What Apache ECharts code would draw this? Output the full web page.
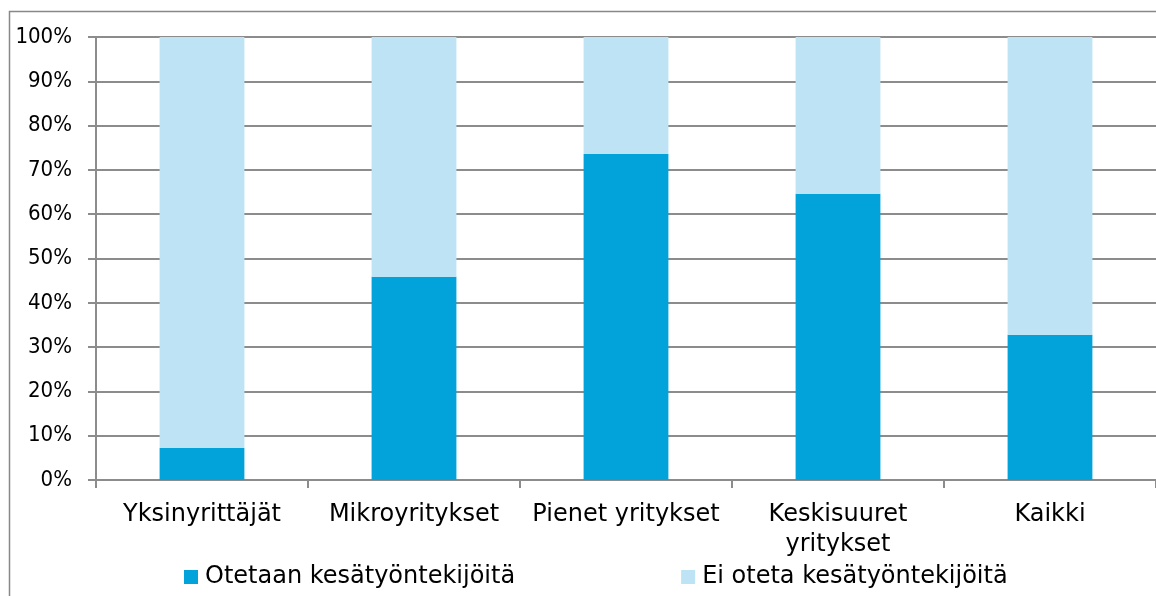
<!DOCTYPE html>
<html>
<head>
<meta charset="utf-8">
<style>
  html, body { margin: 0; padding: 0; background: #fff; }
  #chart { width: 1156px; height: 596px; }
</style>
<script src="https://cdn.jsdelivr.net/npm/echarts@6/dist/echarts.min.js"></script>
</head>
<body>
<div id="chart"></div>
<script>
// categories and shares (percent)
const categories = ['Yksinyrittäjät', 'Mikroyritykset', 'Pienet yritykset', 'Keskisuuret\nyritykset', 'Kaikki'];
const hiring = [7.2, 45.9, 73.6, 64.6, 32.8];
const notHiring = [92.8, 54.1, 26.4, 35.4, 67.2];
const yTicks = [0, 10, 20, 30, 40, 50, 60, 70, 80, 90, 100];

const labelFont = '"DejaVu Sans", sans-serif';
const tickFont = '"DejaVu Sans Condensed", "DejaVu Sans", sans-serif';

const chart = echarts.init(document.getElementById('chart'));
chart.setOption({
    animation: false,
    textStyle: { fontFamily: labelFont },
    graphic: [{
        type: 'rect',
        shape: { x: 9.5, y: 11.5, width: 1160, height: 600 },
        style: { fill: 'none', stroke: '#888', lineWidth: 1.5 },
        silent: true
    }],
    grid: { left: 96, right: 0, top: 37, bottom: 116 },
    legend: {
        bottom: 2,
        left: 179,
        itemWidth: 14,
        itemHeight: 14,
        itemGap: 166,
        icon: 'rect',
        textStyle: { fontSize: 24, color: '#000', fontFamily: labelFont, padding: [0, 0, 0, 2] },
        data: ['Otetaan kesätyöntekijöitä', 'Ei oteta kesätyöntekijöitä']
    },
    xAxis: {
        type: 'category',
        data: categories,
        axisLine: { lineStyle: { color: '#8c8c8c', width: 2 } },
        axisTick: { show: true, interval: 0, length: 8, lineStyle: { color: '#8c8c8c', width: 2 } },
        axisLabel: { interval: 0, color: '#000', fontSize: 24, margin: 20, lineHeight: 30, fontFamily: labelFont }
    },
    yAxis: {
        type: 'value',
        min: 0,
        max: 100,
        interval: 10,
        axisLine: { show: true, lineStyle: { color: '#8c8c8c', width: 2 } },
        axisTick: { show: true, length: 8, lineStyle: { color: '#8c8c8c', width: 2 } },
        splitLine: { lineStyle: { color: '#8c8c8c', width: 2 } },
        axisLabel: {
            color: '#000', fontSize: 22, margin: 24, fontFamily: tickFont,
            formatter: function (v) { return yTicks.indexOf(v) >= 0 ? v + '%' : ''; }
        }
    },
    series: [{
        name: 'Otetaan kesätyöntekijöitä',
        type: 'bar',
        stack: 'all',
        barWidth: '40%',
        itemStyle: { color: '#02A2DA' },
        data: hiring
    }, {
        name: 'Ei oteta kesätyöntekijöitä',
        type: 'bar',
        stack: 'all',
        barWidth: '40%',
        itemStyle: { color: '#BDE3F5' },
        data: notHiring
    }]
});
</script>
</body>
</html>
